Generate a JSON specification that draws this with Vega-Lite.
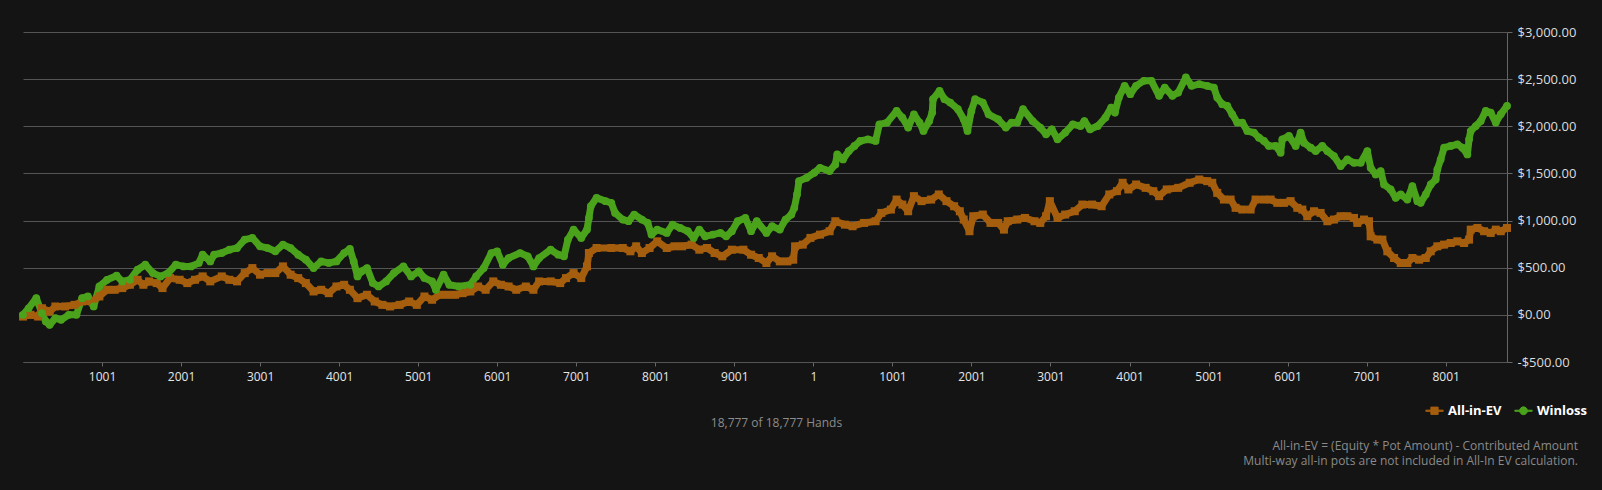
{
  "$schema": "https://vega.github.io/schema/vega-lite/v6.json",
  "width": 1484,
  "height": 330,
  "autosize": {"type": "none"},
  "padding": {"left": 23, "top": 32, "right": 95, "bottom": 128},
  "background": "#141414",
  "config": {"font": "Open Sans", "view": {"stroke": null}},
  "title": {
    "text": ["All-in-EV = (Equity * Pot Amount) - Contributed Amount", "Multi-way all-in pots are not included in All-In EV calculation."],
    "orient": "bottom",
    "anchor": "end",
    "frame": "bounds",
    "fontSize": 12,
    "fontWeight": "normal",
    "color": "#8a8a8a",
    "lineHeight": 15,
    "offset": 13,
    "dx": -10
  },
  "data": {
    "values": [
      {"hand": 1, "series": "Winloss", "value": 0}, {"hand": 72, "series": "Winloss", "value": 70}, {"hand": 169, "series": "Winloss", "value": 177}, {"hand": 241, "series": "Winloss", "value": 18},
      {"hand": 290, "series": "Winloss", "value": -70}, {"hand": 338, "series": "Winloss", "value": -106}, {"hand": 411, "series": "Winloss", "value": -35}, {"hand": 483, "series": "Winloss", "value": -53},
      {"hand": 580, "series": "Winloss", "value": 0}, {"hand": 677, "series": "Winloss", "value": 0}, {"hand": 749, "series": "Winloss", "value": 177}, {"hand": 822, "series": "Winloss", "value": 195},
      {"hand": 895, "series": "Winloss", "value": 89}, {"hand": 967, "series": "Winloss", "value": 301}, {"hand": 1064, "series": "Winloss", "value": 372}, {"hand": 1185, "series": "Winloss", "value": 415},
      {"hand": 1257, "series": "Winloss", "value": 355}, {"hand": 1354, "series": "Winloss", "value": 372}, {"hand": 1451, "series": "Winloss", "value": 479}, {"hand": 1548, "series": "Winloss", "value": 532},
      {"hand": 1645, "series": "Winloss", "value": 443}, {"hand": 1741, "series": "Winloss", "value": 408}, {"hand": 1838, "series": "Winloss", "value": 443}, {"hand": 1935, "series": "Winloss", "value": 532},
      {"hand": 2032, "series": "Winloss", "value": 514}, {"hand": 2128, "series": "Winloss", "value": 514}, {"hand": 2225, "series": "Winloss", "value": 550}, {"hand": 2274, "series": "Winloss", "value": 638},
      {"hand": 2370, "series": "Winloss", "value": 567}, {"hand": 2419, "series": "Winloss", "value": 638}, {"hand": 2516, "series": "Winloss", "value": 656}, {"hand": 2612, "series": "Winloss", "value": 691},
      {"hand": 2709, "series": "Winloss", "value": 709}, {"hand": 2806, "series": "Winloss", "value": 798}, {"hand": 2903, "series": "Winloss", "value": 816}, {"hand": 3000, "series": "Winloss", "value": 727},
      {"hand": 3096, "series": "Winloss", "value": 709}, {"hand": 3193, "series": "Winloss", "value": 674}, {"hand": 3290, "series": "Winloss", "value": 745}, {"hand": 3387, "series": "Winloss", "value": 709},
      {"hand": 3483, "series": "Winloss", "value": 638}, {"hand": 3580, "series": "Winloss", "value": 585}, {"hand": 3677, "series": "Winloss", "value": 496}, {"hand": 3774, "series": "Winloss", "value": 567},
      {"hand": 3870, "series": "Winloss", "value": 550}, {"hand": 3967, "series": "Winloss", "value": 567}, {"hand": 4064, "series": "Winloss", "value": 656}, {"hand": 4137, "series": "Winloss", "value": 699},
      {"hand": 4185, "series": "Winloss", "value": 567}, {"hand": 4233, "series": "Winloss", "value": 408}, {"hand": 4282, "series": "Winloss", "value": 461}, {"hand": 4354, "series": "Winloss", "value": 496},
      {"hand": 4427, "series": "Winloss", "value": 337}, {"hand": 4500, "series": "Winloss", "value": 301}, {"hand": 4596, "series": "Winloss", "value": 355}, {"hand": 4693, "series": "Winloss", "value": 443},
      {"hand": 4814, "series": "Winloss", "value": 514}, {"hand": 4911, "series": "Winloss", "value": 408}, {"hand": 5008, "series": "Winloss", "value": 461}, {"hand": 5080, "series": "Winloss", "value": 390},
      {"hand": 5177, "series": "Winloss", "value": 355}, {"hand": 5225, "series": "Winloss", "value": 266}, {"hand": 5322, "series": "Winloss", "value": 426}, {"hand": 5395, "series": "Winloss", "value": 319},
      {"hand": 5516, "series": "Winloss", "value": 301}, {"hand": 5661, "series": "Winloss", "value": 319}, {"hand": 5734, "series": "Winloss", "value": 408}, {"hand": 5830, "series": "Winloss", "value": 496},
      {"hand": 5927, "series": "Winloss", "value": 656}, {"hand": 6000, "series": "Winloss", "value": 674}, {"hand": 6072, "series": "Winloss", "value": 532}, {"hand": 6145, "series": "Winloss", "value": 603},
      {"hand": 6290, "series": "Winloss", "value": 656}, {"hand": 6387, "series": "Winloss", "value": 621}, {"hand": 6459, "series": "Winloss", "value": 514}, {"hand": 6532, "series": "Winloss", "value": 603},
      {"hand": 6677, "series": "Winloss", "value": 691}, {"hand": 6774, "series": "Winloss", "value": 638}, {"hand": 6846, "series": "Winloss", "value": 621}, {"hand": 6895, "series": "Winloss", "value": 798},
      {"hand": 6967, "series": "Winloss", "value": 904}, {"hand": 7064, "series": "Winloss", "value": 816}, {"hand": 7137, "series": "Winloss", "value": 904}, {"hand": 7161, "series": "Winloss", "value": 1028},
      {"hand": 7185, "series": "Winloss", "value": 1152}, {"hand": 7258, "series": "Winloss", "value": 1241}, {"hand": 7371, "series": "Winloss", "value": 1206}, {"hand": 7444, "series": "Winloss", "value": 1188},
      {"hand": 7492, "series": "Winloss", "value": 1081}, {"hand": 7589, "series": "Winloss", "value": 1011}, {"hand": 7662, "series": "Winloss", "value": 993}, {"hand": 7734, "series": "Winloss", "value": 1064},
      {"hand": 7831, "series": "Winloss", "value": 1011}, {"hand": 7904, "series": "Winloss", "value": 975}, {"hand": 7953, "series": "Winloss", "value": 851}, {"hand": 8025, "series": "Winloss", "value": 904},
      {"hand": 8146, "series": "Winloss", "value": 869}, {"hand": 8219, "series": "Winloss", "value": 957}, {"hand": 8316, "series": "Winloss", "value": 922}, {"hand": 8413, "series": "Winloss", "value": 887},
      {"hand": 8486, "series": "Winloss", "value": 816}, {"hand": 8558, "series": "Winloss", "value": 904}, {"hand": 8631, "series": "Winloss", "value": 833}, {"hand": 8728, "series": "Winloss", "value": 851},
      {"hand": 8825, "series": "Winloss", "value": 869}, {"hand": 8898, "series": "Winloss", "value": 833}, {"hand": 8970, "series": "Winloss", "value": 887}, {"hand": 9043, "series": "Winloss", "value": 993},
      {"hand": 9140, "series": "Winloss", "value": 1028}, {"hand": 9213, "series": "Winloss", "value": 887}, {"hand": 9285, "series": "Winloss", "value": 993}, {"hand": 9407, "series": "Winloss", "value": 869},
      {"hand": 9479, "series": "Winloss", "value": 940}, {"hand": 9576, "series": "Winloss", "value": 904}, {"hand": 9649, "series": "Winloss", "value": 1011}, {"hand": 9722, "series": "Winloss", "value": 1064},
      {"hand": 9760, "series": "Winloss", "value": 1135}, {"hand": 9794, "series": "Winloss", "value": 1277}, {"hand": 9819, "series": "Winloss", "value": 1418}, {"hand": 9915, "series": "Winloss", "value": 1454},
      {"hand": 10012, "series": "Winloss", "value": 1507}, {"hand": 10085, "series": "Winloss", "value": 1560}, {"hand": 10206, "series": "Winloss", "value": 1525}, {"hand": 10279, "series": "Winloss", "value": 1596},
      {"hand": 10303, "series": "Winloss", "value": 1702}, {"hand": 10376, "series": "Winloss", "value": 1649}, {"hand": 10449, "series": "Winloss", "value": 1737}, {"hand": 10521, "series": "Winloss", "value": 1791},
      {"hand": 10594, "series": "Winloss", "value": 1844}, {"hand": 10691, "series": "Winloss", "value": 1862}, {"hand": 10788, "series": "Winloss", "value": 1844}, {"hand": 10836, "series": "Winloss", "value": 2021},
      {"hand": 10933, "series": "Winloss", "value": 2039}, {"hand": 11054, "series": "Winloss", "value": 2163}, {"hand": 11127, "series": "Winloss", "value": 2092}, {"hand": 11200, "series": "Winloss", "value": 1986},
      {"hand": 11273, "series": "Winloss", "value": 2127}, {"hand": 11345, "series": "Winloss", "value": 2039}, {"hand": 11394, "series": "Winloss", "value": 1950}, {"hand": 11467, "series": "Winloss", "value": 2056},
      {"hand": 11505, "series": "Winloss", "value": 2145}, {"hand": 11515, "series": "Winloss", "value": 2287}, {"hand": 11597, "series": "Winloss", "value": 2376}, {"hand": 11660, "series": "Winloss", "value": 2287},
      {"hand": 11733, "series": "Winloss", "value": 2252}, {"hand": 11830, "series": "Winloss", "value": 2181}, {"hand": 11903, "series": "Winloss", "value": 2074}, {"hand": 11951, "series": "Winloss", "value": 1950},
      {"hand": 12000, "series": "Winloss", "value": 2163}, {"hand": 12048, "series": "Winloss", "value": 2287}, {"hand": 12145, "series": "Winloss", "value": 2252}, {"hand": 12218, "series": "Winloss", "value": 2127},
      {"hand": 12339, "series": "Winloss", "value": 2074}, {"hand": 12436, "series": "Winloss", "value": 1986}, {"hand": 12509, "series": "Winloss", "value": 2039}, {"hand": 12581, "series": "Winloss", "value": 2039},
      {"hand": 12654, "series": "Winloss", "value": 2181}, {"hand": 12775, "series": "Winloss", "value": 2056}, {"hand": 12872, "series": "Winloss", "value": 1986}, {"hand": 12945, "series": "Winloss", "value": 1915},
      {"hand": 13018, "series": "Winloss", "value": 1968}, {"hand": 13090, "series": "Winloss", "value": 1862}, {"hand": 13187, "series": "Winloss", "value": 1933}, {"hand": 13284, "series": "Winloss", "value": 2021},
      {"hand": 13381, "series": "Winloss", "value": 2003}, {"hand": 13430, "series": "Winloss", "value": 2056}, {"hand": 13502, "series": "Winloss", "value": 1968}, {"hand": 13599, "series": "Winloss", "value": 2003},
      {"hand": 13696, "series": "Winloss", "value": 2092}, {"hand": 13769, "series": "Winloss", "value": 2199}, {"hand": 13817, "series": "Winloss", "value": 2145}, {"hand": 13866, "series": "Winloss", "value": 2305},
      {"hand": 13939, "series": "Winloss", "value": 2429}, {"hand": 14011, "series": "Winloss", "value": 2340}, {"hand": 14084, "series": "Winloss", "value": 2429}, {"hand": 14181, "series": "Winloss", "value": 2482},
      {"hand": 14278, "series": "Winloss", "value": 2482}, {"hand": 14375, "series": "Winloss", "value": 2323}, {"hand": 14447, "series": "Winloss", "value": 2411}, {"hand": 14544, "series": "Winloss", "value": 2323},
      {"hand": 14617, "series": "Winloss", "value": 2358}, {"hand": 14714, "series": "Winloss", "value": 2518}, {"hand": 14787, "series": "Winloss", "value": 2429}, {"hand": 14883, "series": "Winloss", "value": 2447},
      {"hand": 14984, "series": "Winloss", "value": 2429}, {"hand": 15069, "series": "Winloss", "value": 2411}, {"hand": 15111, "series": "Winloss", "value": 2305}, {"hand": 15174, "series": "Winloss", "value": 2234},
      {"hand": 15238, "series": "Winloss", "value": 2216}, {"hand": 15301, "series": "Winloss", "value": 2127}, {"hand": 15364, "series": "Winloss", "value": 2039}, {"hand": 15428, "series": "Winloss", "value": 2039},
      {"hand": 15491, "series": "Winloss", "value": 1950}, {"hand": 15575, "series": "Winloss", "value": 1933}, {"hand": 15639, "series": "Winloss", "value": 1879}, {"hand": 15702, "series": "Winloss", "value": 1844},
      {"hand": 15765, "series": "Winloss", "value": 1791}, {"hand": 15850, "series": "Winloss", "value": 1791}, {"hand": 15913, "series": "Winloss", "value": 1720}, {"hand": 15934, "series": "Winloss", "value": 1862},
      {"hand": 16018, "series": "Winloss", "value": 1897}, {"hand": 16103, "series": "Winloss", "value": 1791}, {"hand": 16166, "series": "Winloss", "value": 1933}, {"hand": 16208, "series": "Winloss", "value": 1826},
      {"hand": 16293, "series": "Winloss", "value": 1773}, {"hand": 16356, "series": "Winloss", "value": 1737}, {"hand": 16440, "series": "Winloss", "value": 1791}, {"hand": 16504, "series": "Winloss", "value": 1737},
      {"hand": 16588, "series": "Winloss", "value": 1684}, {"hand": 16672, "series": "Winloss", "value": 1578}, {"hand": 16757, "series": "Winloss", "value": 1649}, {"hand": 16841, "series": "Winloss", "value": 1613},
      {"hand": 16926, "series": "Winloss", "value": 1613}, {"hand": 17010, "series": "Winloss", "value": 1737}, {"hand": 17052, "series": "Winloss", "value": 1560}, {"hand": 17116, "series": "Winloss", "value": 1489},
      {"hand": 17179, "series": "Winloss", "value": 1525}, {"hand": 17221, "series": "Winloss", "value": 1383}, {"hand": 17305, "series": "Winloss", "value": 1330}, {"hand": 17369, "series": "Winloss", "value": 1241},
      {"hand": 17432, "series": "Winloss", "value": 1277}, {"hand": 17516, "series": "Winloss", "value": 1223}, {"hand": 17580, "series": "Winloss", "value": 1365}, {"hand": 17643, "series": "Winloss", "value": 1206},
      {"hand": 17685, "series": "Winloss", "value": 1188}, {"hand": 17749, "series": "Winloss", "value": 1277}, {"hand": 17812, "series": "Winloss", "value": 1383}, {"hand": 17875, "series": "Winloss", "value": 1436},
      {"hand": 17896, "series": "Winloss", "value": 1543}, {"hand": 17938, "series": "Winloss", "value": 1649}, {"hand": 17981, "series": "Winloss", "value": 1773}, {"hand": 18065, "series": "Winloss", "value": 1791},
      {"hand": 18149, "series": "Winloss", "value": 1809}, {"hand": 18213, "series": "Winloss", "value": 1773}, {"hand": 18276, "series": "Winloss", "value": 1702}, {"hand": 18297, "series": "Winloss", "value": 1862},
      {"hand": 18318, "series": "Winloss", "value": 1950}, {"hand": 18382, "series": "Winloss", "value": 2003}, {"hand": 18445, "series": "Winloss", "value": 2056}, {"hand": 18508, "series": "Winloss", "value": 2163},
      {"hand": 18571, "series": "Winloss", "value": 2145}, {"hand": 18635, "series": "Winloss", "value": 2039}, {"hand": 18698, "series": "Winloss", "value": 2127}, {"hand": 18777, "series": "Winloss", "value": 2216},

      {"hand": 1, "series": "All-in-EV", "value": -18}, {"hand": 96, "series": "All-in-EV", "value": 0}, {"hand": 193, "series": "All-in-EV", "value": -18}, {"hand": 241, "series": "All-in-EV", "value": 70},
      {"hand": 338, "series": "All-in-EV", "value": 35}, {"hand": 411, "series": "All-in-EV", "value": 89}, {"hand": 532, "series": "All-in-EV", "value": 89}, {"hand": 653, "series": "All-in-EV", "value": 106},
      {"hand": 749, "series": "All-in-EV", "value": 142}, {"hand": 870, "series": "All-in-EV", "value": 142}, {"hand": 967, "series": "All-in-EV", "value": 195}, {"hand": 1064, "series": "All-in-EV", "value": 266},
      {"hand": 1161, "series": "All-in-EV", "value": 266}, {"hand": 1257, "series": "All-in-EV", "value": 284}, {"hand": 1354, "series": "All-in-EV", "value": 319}, {"hand": 1451, "series": "All-in-EV", "value": 372},
      {"hand": 1524, "series": "All-in-EV", "value": 319}, {"hand": 1596, "series": "All-in-EV", "value": 355}, {"hand": 1693, "series": "All-in-EV", "value": 337}, {"hand": 1766, "series": "All-in-EV", "value": 284},
      {"hand": 1862, "series": "All-in-EV", "value": 390}, {"hand": 1983, "series": "All-in-EV", "value": 372}, {"hand": 2080, "series": "All-in-EV", "value": 337}, {"hand": 2177, "series": "All-in-EV", "value": 372},
      {"hand": 2274, "series": "All-in-EV", "value": 408}, {"hand": 2370, "series": "All-in-EV", "value": 355}, {"hand": 2516, "series": "All-in-EV", "value": 408}, {"hand": 2612, "series": "All-in-EV", "value": 372},
      {"hand": 2709, "series": "All-in-EV", "value": 355}, {"hand": 2806, "series": "All-in-EV", "value": 443}, {"hand": 2903, "series": "All-in-EV", "value": 496}, {"hand": 3000, "series": "All-in-EV", "value": 426},
      {"hand": 3096, "series": "All-in-EV", "value": 443}, {"hand": 3193, "series": "All-in-EV", "value": 443}, {"hand": 3290, "series": "All-in-EV", "value": 514}, {"hand": 3387, "series": "All-in-EV", "value": 426},
      {"hand": 3483, "series": "All-in-EV", "value": 390}, {"hand": 3580, "series": "All-in-EV", "value": 337}, {"hand": 3677, "series": "All-in-EV", "value": 248}, {"hand": 3774, "series": "All-in-EV", "value": 266},
      {"hand": 3870, "series": "All-in-EV", "value": 230}, {"hand": 3967, "series": "All-in-EV", "value": 301}, {"hand": 4064, "series": "All-in-EV", "value": 319}, {"hand": 4137, "series": "All-in-EV", "value": 266},
      {"hand": 4233, "series": "All-in-EV", "value": 177}, {"hand": 4354, "series": "All-in-EV", "value": 213}, {"hand": 4451, "series": "All-in-EV", "value": 142}, {"hand": 4548, "series": "All-in-EV", "value": 106},
      {"hand": 4645, "series": "All-in-EV", "value": 89}, {"hand": 4766, "series": "All-in-EV", "value": 106}, {"hand": 4887, "series": "All-in-EV", "value": 142}, {"hand": 4984, "series": "All-in-EV", "value": 106},
      {"hand": 5080, "series": "All-in-EV", "value": 195}, {"hand": 5177, "series": "All-in-EV", "value": 160}, {"hand": 5274, "series": "All-in-EV", "value": 213}, {"hand": 5370, "series": "All-in-EV", "value": 213},
      {"hand": 5467, "series": "All-in-EV", "value": 213}, {"hand": 5564, "series": "All-in-EV", "value": 230}, {"hand": 5661, "series": "All-in-EV", "value": 248}, {"hand": 5758, "series": "All-in-EV", "value": 301},
      {"hand": 5855, "series": "All-in-EV", "value": 266}, {"hand": 5951, "series": "All-in-EV", "value": 355}, {"hand": 6048, "series": "All-in-EV", "value": 319}, {"hand": 6145, "series": "All-in-EV", "value": 301},
      {"hand": 6242, "series": "All-in-EV", "value": 266}, {"hand": 6363, "series": "All-in-EV", "value": 301}, {"hand": 6459, "series": "All-in-EV", "value": 266}, {"hand": 6532, "series": "All-in-EV", "value": 355},
      {"hand": 6677, "series": "All-in-EV", "value": 355}, {"hand": 6798, "series": "All-in-EV", "value": 337}, {"hand": 6871, "series": "All-in-EV", "value": 390}, {"hand": 6967, "series": "All-in-EV", "value": 443},
      {"hand": 7064, "series": "All-in-EV", "value": 390}, {"hand": 7137, "series": "All-in-EV", "value": 514}, {"hand": 7161, "series": "All-in-EV", "value": 656}, {"hand": 7258, "series": "All-in-EV", "value": 709},
      {"hand": 7444, "series": "All-in-EV", "value": 709}, {"hand": 7589, "series": "All-in-EV", "value": 709}, {"hand": 7686, "series": "All-in-EV", "value": 674}, {"hand": 7759, "series": "All-in-EV", "value": 727},
      {"hand": 7831, "series": "All-in-EV", "value": 656}, {"hand": 7928, "series": "All-in-EV", "value": 709}, {"hand": 8025, "series": "All-in-EV", "value": 780}, {"hand": 8146, "series": "All-in-EV", "value": 709},
      {"hand": 8243, "series": "All-in-EV", "value": 727}, {"hand": 8340, "series": "All-in-EV", "value": 727}, {"hand": 8461, "series": "All-in-EV", "value": 745}, {"hand": 8558, "series": "All-in-EV", "value": 691},
      {"hand": 8655, "series": "All-in-EV", "value": 709}, {"hand": 8752, "series": "All-in-EV", "value": 656}, {"hand": 8849, "series": "All-in-EV", "value": 621}, {"hand": 8970, "series": "All-in-EV", "value": 691},
      {"hand": 9116, "series": "All-in-EV", "value": 691}, {"hand": 9213, "series": "All-in-EV", "value": 638}, {"hand": 9310, "series": "All-in-EV", "value": 603}, {"hand": 9407, "series": "All-in-EV", "value": 550},
      {"hand": 9479, "series": "All-in-EV", "value": 621}, {"hand": 9576, "series": "All-in-EV", "value": 567}, {"hand": 9673, "series": "All-in-EV", "value": 567}, {"hand": 9746, "series": "All-in-EV", "value": 585},
      {"hand": 9770, "series": "All-in-EV", "value": 727}, {"hand": 9867, "series": "All-in-EV", "value": 745}, {"hand": 9964, "series": "All-in-EV", "value": 816}, {"hand": 10085, "series": "All-in-EV", "value": 851},
      {"hand": 10206, "series": "All-in-EV", "value": 887}, {"hand": 10279, "series": "All-in-EV", "value": 993}, {"hand": 10400, "series": "All-in-EV", "value": 957}, {"hand": 10497, "series": "All-in-EV", "value": 940},
      {"hand": 10643, "series": "All-in-EV", "value": 975}, {"hand": 10788, "series": "All-in-EV", "value": 993}, {"hand": 10861, "series": "All-in-EV", "value": 1081}, {"hand": 10982, "series": "All-in-EV", "value": 1117},
      {"hand": 11054, "series": "All-in-EV", "value": 1223}, {"hand": 11127, "series": "All-in-EV", "value": 1170}, {"hand": 11200, "series": "All-in-EV", "value": 1099}, {"hand": 11273, "series": "All-in-EV", "value": 1259},
      {"hand": 11370, "series": "All-in-EV", "value": 1206}, {"hand": 11491, "series": "All-in-EV", "value": 1223}, {"hand": 11588, "series": "All-in-EV", "value": 1277}, {"hand": 11685, "series": "All-in-EV", "value": 1206},
      {"hand": 11782, "series": "All-in-EV", "value": 1152}, {"hand": 11854, "series": "All-in-EV", "value": 1099}, {"hand": 11903, "series": "All-in-EV", "value": 1011}, {"hand": 11976, "series": "All-in-EV", "value": 887},
      {"hand": 12024, "series": "All-in-EV", "value": 1046}, {"hand": 12145, "series": "All-in-EV", "value": 1064}, {"hand": 12242, "series": "All-in-EV", "value": 975}, {"hand": 12339, "series": "All-in-EV", "value": 975},
      {"hand": 12412, "series": "All-in-EV", "value": 904}, {"hand": 12460, "series": "All-in-EV", "value": 993}, {"hand": 12581, "series": "All-in-EV", "value": 1011}, {"hand": 12678, "series": "All-in-EV", "value": 1028},
      {"hand": 12799, "series": "All-in-EV", "value": 993}, {"hand": 12872, "series": "All-in-EV", "value": 975}, {"hand": 12945, "series": "All-in-EV", "value": 1046}, {"hand": 12993, "series": "All-in-EV", "value": 1206},
      {"hand": 13090, "series": "All-in-EV", "value": 1028}, {"hand": 13187, "series": "All-in-EV", "value": 1064}, {"hand": 13308, "series": "All-in-EV", "value": 1099}, {"hand": 13405, "series": "All-in-EV", "value": 1170},
      {"hand": 13526, "series": "All-in-EV", "value": 1170}, {"hand": 13648, "series": "All-in-EV", "value": 1152}, {"hand": 13745, "series": "All-in-EV", "value": 1277}, {"hand": 13842, "series": "All-in-EV", "value": 1312},
      {"hand": 13914, "series": "All-in-EV", "value": 1401}, {"hand": 13987, "series": "All-in-EV", "value": 1330}, {"hand": 14084, "series": "All-in-EV", "value": 1383}, {"hand": 14205, "series": "All-in-EV", "value": 1347},
      {"hand": 14302, "series": "All-in-EV", "value": 1312}, {"hand": 14375, "series": "All-in-EV", "value": 1259}, {"hand": 14472, "series": "All-in-EV", "value": 1330}, {"hand": 14617, "series": "All-in-EV", "value": 1347},
      {"hand": 14762, "series": "All-in-EV", "value": 1401}, {"hand": 14883, "series": "All-in-EV", "value": 1436}, {"hand": 14984, "series": "All-in-EV", "value": 1418}, {"hand": 15048, "series": "All-in-EV", "value": 1401},
      {"hand": 15111, "series": "All-in-EV", "value": 1294}, {"hand": 15195, "series": "All-in-EV", "value": 1223}, {"hand": 15280, "series": "All-in-EV", "value": 1223}, {"hand": 15343, "series": "All-in-EV", "value": 1135},
      {"hand": 15428, "series": "All-in-EV", "value": 1117}, {"hand": 15533, "series": "All-in-EV", "value": 1117}, {"hand": 15596, "series": "All-in-EV", "value": 1223}, {"hand": 15702, "series": "All-in-EV", "value": 1223},
      {"hand": 15786, "series": "All-in-EV", "value": 1223}, {"hand": 15871, "series": "All-in-EV", "value": 1188}, {"hand": 15955, "series": "All-in-EV", "value": 1188}, {"hand": 16039, "series": "All-in-EV", "value": 1206},
      {"hand": 16124, "series": "All-in-EV", "value": 1135}, {"hand": 16187, "series": "All-in-EV", "value": 1117}, {"hand": 16250, "series": "All-in-EV", "value": 1046}, {"hand": 16335, "series": "All-in-EV", "value": 1099},
      {"hand": 16419, "series": "All-in-EV", "value": 1081}, {"hand": 16504, "series": "All-in-EV", "value": 993}, {"hand": 16588, "series": "All-in-EV", "value": 1011}, {"hand": 16672, "series": "All-in-EV", "value": 1046},
      {"hand": 16757, "series": "All-in-EV", "value": 1046}, {"hand": 16841, "series": "All-in-EV", "value": 1028}, {"hand": 16883, "series": "All-in-EV", "value": 975}, {"hand": 16968, "series": "All-in-EV", "value": 1011},
      {"hand": 17031, "series": "All-in-EV", "value": 993}, {"hand": 17052, "series": "All-in-EV", "value": 833}, {"hand": 17137, "series": "All-in-EV", "value": 798}, {"hand": 17200, "series": "All-in-EV", "value": 798},
      {"hand": 17263, "series": "All-in-EV", "value": 674}, {"hand": 17348, "series": "All-in-EV", "value": 603}, {"hand": 17432, "series": "All-in-EV", "value": 550}, {"hand": 17516, "series": "All-in-EV", "value": 550},
      {"hand": 17580, "series": "All-in-EV", "value": 603}, {"hand": 17664, "series": "All-in-EV", "value": 585}, {"hand": 17749, "series": "All-in-EV", "value": 603}, {"hand": 17812, "series": "All-in-EV", "value": 674},
      {"hand": 17896, "series": "All-in-EV", "value": 727}, {"hand": 17981, "series": "All-in-EV", "value": 745}, {"hand": 18065, "series": "All-in-EV", "value": 762}, {"hand": 18149, "series": "All-in-EV", "value": 780},
      {"hand": 18234, "series": "All-in-EV", "value": 762}, {"hand": 18297, "series": "All-in-EV", "value": 798}, {"hand": 18318, "series": "All-in-EV", "value": 904}, {"hand": 18403, "series": "All-in-EV", "value": 922},
      {"hand": 18487, "series": "All-in-EV", "value": 887}, {"hand": 18571, "series": "All-in-EV", "value": 869}, {"hand": 18635, "series": "All-in-EV", "value": 904}, {"hand": 18698, "series": "All-in-EV", "value": 887},
      {"hand": 18777, "series": "All-in-EV", "value": 922}
    ]
  },
  "encoding": {
    "x": {
      "field": "hand",
      "type": "quantitative",
      "scale": {"domain": [1, 18777], "nice": false, "zero": false},
      "axis": {
        "values": [1001, 2001, 3001, 4001, 5001, 6001, 7001, 8001, 9001, 10001, 11001, 12001, 13001, 14001, 15001, 16001, 17001, 18001],
        "labelExpr": "datum.value > 10000 ? '' + (datum.value - 10000) : '' + datum.value",
        "grid": false,
        "domainColor": "#555555",
        "tickColor": "#666666",
        "tickSize": 4,
        "labelColor": "#e6e6e6",
        "labelFontSize": 12,
        "labelPadding": 5,
        "labelOverlap": false,
        "labelFlush": false,
        "title": "18,777 of 18,777 Hands",
        "titleColor": "#8c8c8c",
        "titleFontSize": 12,
        "titleFontWeight": "normal",
        "titleX": 753,
        "titleY": 60,
        "titleAlign": "center",
        "titleBaseline": "middle"
      }
    },
    "y": {
      "field": "value",
      "type": "quantitative",
      "scale": {"domain": [-500, 3000], "nice": false},
      "axis": {
        "orient": "right",
        "values": [-500, 0, 500, 1000, 1500, 2000, 2500, 3000],
        "labelExpr": "(datum.value < 0 ? '-' : '') + format(abs(datum.value), '$,.2f')",
        "gridColor": "#555555",
        "domainColor": "#666666",
        "tickColor": "#666666",
        "tickSize": 5,
        "labelPadding": 5,
        "labelColor": "#dcdcdc",
        "labelFontSize": 13,
        "title": null
      }
    },
    "color": {
      "field": "series",
      "type": "nominal",
      "scale": {"domain": ["All-in-EV", "Winloss"], "range": ["#a55e0d", "#4aa31b"]},
      "legend": {
        "title": null,
        "orient": "none",
        "legendX": 1402,
        "legendY": 369,
        "direction": "horizontal",
        "labelColor": "#ffffff",
        "labelFontSize": 13,
        "labelFontWeight": "bold",
        "symbolSize": 300,
        "symbolStrokeWidth": 1,
        "symbolOpacity": 1,
        "labelOffset": 4,
        "columnPadding": 10
      }
    }
  },
  "layer": [
    {
      "mark": {"type": "line", "strokeWidth": 7, "strokeJoin": "round", "strokeCap": "round"}
    },
    {
      "transform": [{"filter": "datum.series === 'All-in-EV'"}],
      "mark": {"type": "point", "shape": "square", "filled": true, "size": 64, "opacity": 1}
    },
    {
      "transform": [{"filter": "datum.series === 'Winloss'"}],
      "mark": {"type": "point", "shape": "circle", "filled": true, "size": 60, "opacity": 1}
    },
    {
      "transform": [{"filter": "false"}],
      "mark": {"type": "point", "filled": true, "opacity": 1},
      "encoding": {
        "shape": {
          "field": "series",
          "type": "nominal",
          "scale": {
            "domain": ["All-in-EV", "Winloss"],
            "range": [
              "M-1,-0.07H1V0.07H-1Z M-0.42,-0.42H0.42V0.42H-0.42Z",
              "M-1,-0.06H1V0.06H-1Z M-0.45,0A0.45,0.45 0 1,1 0.45,0A0.45,0.45 0 1,1 -0.45,0Z"
            ]
          },
          "legend": {"title": null}
        }
      }
    }
  ]
}
